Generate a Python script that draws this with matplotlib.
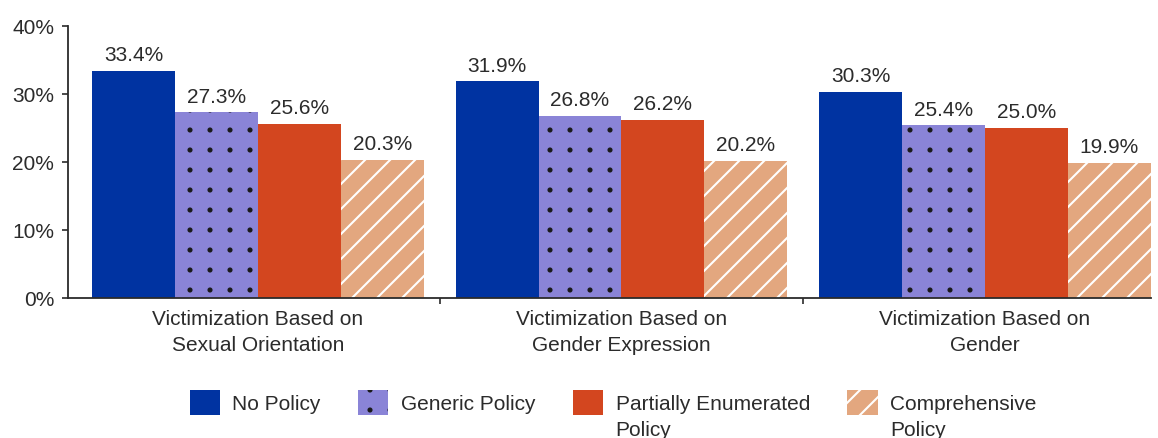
import matplotlib
matplotlib.use("Agg")
import matplotlib.pyplot as plt
import matplotlib.hatch as mhatch
from matplotlib.path import Path
from matplotlib.patches import Rectangle
from matplotlib.legend_handler import HandlerPatch
from matplotlib.container import BarContainer
import numpy as np

plt.rcParams['font.family'] = ['Liberation Sans', 'DejaVu Sans']
plt.rcParams['hatch.linewidth'] = 1.5


# --- custom hatch styles: aligned grid of small dots, denser diagonals ---
class GridDots(mhatch.Shapes):
    filled = True
    size = 0.075

    def __init__(self, hatch, density):
        n = hatch.count('.')
        self.num_rows = 5 * n
        path = Path.unit_circle()
        self.shape_vertices = path.vertices
        self.shape_codes = path.codes
        self.num_shapes = self.num_rows * self.num_rows
        self.num_vertices = self.num_shapes * len(self.shape_vertices)

    def set_vertices_and_codes(self, vertices, codes):
        offset = 1.0 / self.num_rows
        sv = self.shape_vertices * offset * self.size
        vparts, cparts = [], []
        for r in range(self.num_rows):
            for c in range(self.num_rows):
                vparts.append(sv + [(c + 0.5) * offset, (r + 0.5) * offset])
                cparts.append(self.shape_codes)
        np.concatenate(vparts, out=vertices)
        np.concatenate(cparts, out=codes)


class DenseNE(mhatch.NorthEastHatch):
    def __init__(self, hatch, density):
        self.num_lines = int((hatch.count('/') + hatch.count('x') + hatch.count('X')) * 8)
        if self.num_lines:
            self.num_vertices = (self.num_lines + 1) * 2
        else:
            self.num_vertices = 0


mhatch._hatch_types = [DenseNE if t is mhatch.NorthEastHatch else
                       (GridDots if t is mhatch.SmallFilledCircles else t)
                       for t in mhatch._hatch_types]

categories = ["Victimization Based on\nSexual Orientation",
              "Victimization Based on\nGender Expression",
              "Victimization Based on\nGender"]
series_names = ["No Policy\n ", "Generic Policy\n ", "Partially Enumerated\nPolicy", "Comprehensive\nPolicy"]
no_policy = [33.4, 31.9, 30.3]
generic_policy = [27.3, 26.8, 25.4]
partial_policy = [25.6, 26.2, 25.0]
comprehensive_policy = [20.3, 20.2, 19.9]
y_ticks = [0, 10, 20, 30, 40]

series = [no_policy, generic_policy, partial_policy, comprehensive_policy]
colors = ["#0033A1", "#8A84D7", "#D3461F", "#E3A77F"]
hatches = [None, ".", None, "/"]
hatch_colors = ["#0033A1", "#1a1a1a", "#D3461F", "white"]

text_color = "#2b2b2b"

fig = plt.figure(figsize=(11.58, 4.38), dpi=100)
W, H = 1158, 438
ax = fig.add_axes([68 / W, (H - 298) / H, (1151 - 68) / W, (298 - 26) / H])

x = np.arange(len(categories))
bw = 0.2283
handles = []
for i, (vals, c, h, hc, name) in enumerate(zip(series, colors, hatches, hatch_colors, series_names)):
    pos = x + (i - 1.5) * bw
    bars = ax.bar(pos, vals, width=bw, color=c, edgecolor=hc, linewidth=0,
                  hatch=h, label=name)
    handles.append(bars)
    for b, v in zip(bars, vals):
        ax.annotate(f"{v:.1f}%", (b.get_x() + b.get_width() / 2, v),
                    xytext=(0, 4), textcoords="offset points",
                    ha="center", va="bottom", fontsize=15, color=text_color)

ax.set_xlim(-0.5227, 2.4567)
ax.set_ylim(0, 40)
ax.set_yticks(y_ticks)
ax.set_yticklabels([f"{t}%" for t in y_ticks])
ax.set_xticks(x)
ax.set_xticklabels(categories, linespacing=1.45)
ax.set_xticks([0.5, 1.5], minor=True)
ax.tick_params(axis="x", which="major", length=0, pad=8.5, labelsize=15, labelcolor=text_color)
ax.tick_params(axis="x", which="minor", length=4, width=1.2, color=text_color, direction="out")
ax.tick_params(axis="y", length=4.5, width=1.2, color=text_color, pad=5.5, labelsize=15, labelcolor=text_color)
for s in ["top", "right"]:
    ax.spines[s].set_visible(False)
for s in ["left", "bottom"]:
    ax.spines[s].set_color(text_color)
    ax.spines[s].set_linewidth(1.3)

SHIFT_PT = 10.8


def raised_rect(legend, orig_handle, xdescent, ydescent, width, height, fontsize):
    return Rectangle((-xdescent, -ydescent + SHIFT_PT), width, height)


def first_child_update(tgt, src):
    tgt.update_from(src.patches[0])


handler = HandlerPatch(patch_func=raised_rect, update_func=first_child_update)

leg = fig.legend(handles=handles, labels=series_names, loc="upper center",
                 bbox_to_anchor=(613 / W, (H - 376) / H), ncol=4, frameon=False,
                 fontsize=15, handlelength=1.45, handleheight=1.45,
                 handletextpad=0.6, columnspacing=1.8, labelcolor=text_color,
                 handler_map={BarContainer: handler})
for t in leg.get_texts():
    t.set_linespacing(1.45)

fig.savefig("out.png", dpi=100)
